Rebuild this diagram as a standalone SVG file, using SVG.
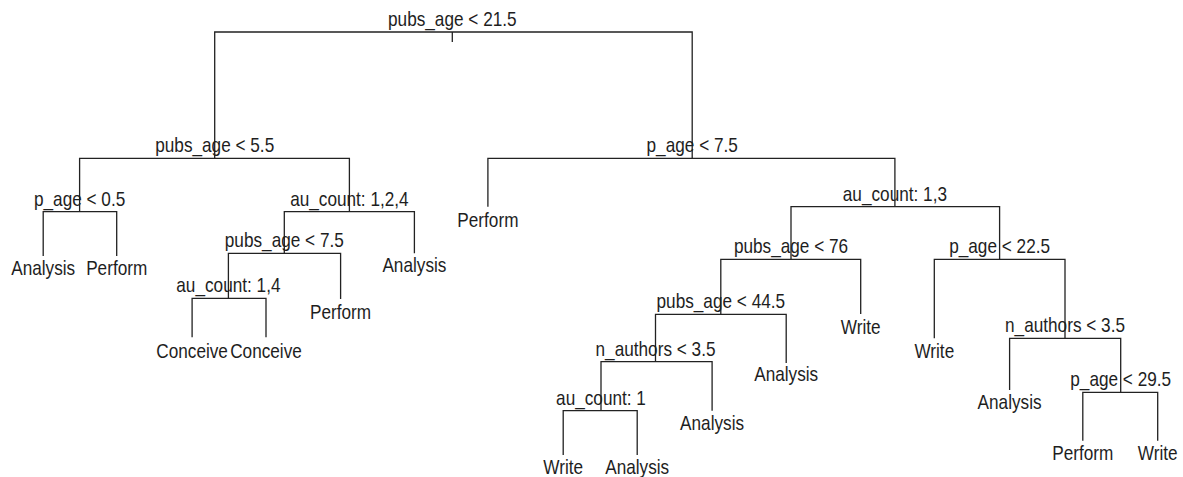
<svg xmlns="http://www.w3.org/2000/svg" width="1183" height="477" viewBox="0 0 1183 477">
  <style>
    .edge { fill: none; stroke: #222222; stroke-width: 1.3; }
    text { font-family: "Liberation Sans", Arial, sans-serif; font-size: 20px; fill: #1e1e1e; text-anchor: middle; }
  </style>
  <rect width="1183" height="477" fill="#ffffff"/>

  <!-- branches of the classification tree -->
  <g id="connectors">
    <path class="edge" d="M452.3,32 V42"/>
    <path class="edge" d="M214.7,158.3 V32 H692.2 V158.3"/>
    <path class="edge" d="M79.6,211.7 V158.3 H349.4 V211.7"/>
    <path class="edge" d="M487.9,206.7 V158.3 H894.9 V206.7"/>
    <path class="edge" d="M43.2,256 V211.7 H116.7 V256"/>
    <path class="edge" d="M284.3,253.3 V211.7 H414.4 V253.3"/>
    <path class="edge" d="M228.4,298.3 V253.3 H340.6 V299"/>
    <path class="edge" d="M192.1,337.3 V298.3 H266 V337.3"/>
    <path class="edge" d="M791,259.3 V206.7 H999.6 V259.3"/>
    <path class="edge" d="M720.8,314.3 V259.3 H860.7 V314"/>
    <path class="edge" d="M934.3,338.3 V259.3 H1065 V338.3"/>
    <path class="edge" d="M655.5,361.7 V314.3 H786.2 V363"/>
    <path class="edge" d="M1009.6,390 V338.3 H1120.7 V392.3"/>
    <path class="edge" d="M1082.8,440.7 V392.3 H1157.7 V440.7"/>
    <path class="edge" d="M601,410.7 V361.7 H712.1 V410.7"/>
    <path class="edge" d="M563.2,455 V410.7 H637.2 V455"/>
  </g>

  <!-- split nodes (labels set in a condensed Arial-like face) -->
  <g id="n1"><text transform="translate(452.3,26) scale(0.86,1)">pubs_age &lt; 21.5</text></g>
  <g id="n2"><text transform="translate(214.7,152) scale(0.86,1)">pubs_age &lt; 5.5</text></g>
  <g id="n3"><text transform="translate(692.2,152) scale(0.86,1)">p_age &lt; 7.5</text></g>
  <g id="n4"><text transform="translate(79.6,205.5) scale(0.86,1)">p_age &lt; 0.5</text></g>
  <g id="n5"><text transform="translate(349.4,205.5) scale(0.86,1)">au_count: 1,2,4</text></g>
  <g id="n10"><text transform="translate(284.3,247) scale(0.86,1)">pubs_age &lt; 7.5</text></g>
  <g id="n20"><text transform="translate(228.4,292) scale(0.86,1)">au_count: 1,4</text></g>
  <g id="n7"><text transform="translate(894.9,200.5) scale(0.86,1)">au_count: 1,3</text></g>
  <g id="n14"><text transform="translate(791,253) scale(0.86,1)">pubs_age &lt; 76</text></g>
  <g id="n15"><text transform="translate(999.6,253) scale(0.86,1)">p_age &lt; 22.5</text></g>
  <g id="n28"><text transform="translate(720.8,308) scale(0.86,1)">pubs_age &lt; 44.5</text></g>
  <g id="n31"><text transform="translate(1065,332) scale(0.86,1)">n_authors &lt; 3.5</text></g>
  <g id="n63"><text transform="translate(1120.7,386) scale(0.86,1)">p_age &lt; 29.5</text></g>
  <g id="n56"><text transform="translate(655.5,355.5) scale(0.86,1)">n_authors &lt; 3.5</text></g>
  <g id="n112"><text transform="translate(601,404.5) scale(0.86,1)">au_count: 1</text></g>

  <!-- leaves -->
  <g id="leaf8"><text transform="translate(43.2,275) scale(0.86,1)">Analysis</text></g>
  <g id="leaf9"><text transform="translate(116.7,275) scale(0.86,1)">Perform</text></g>
  <g id="leaf11"><text transform="translate(414.4,272) scale(0.86,1)">Analysis</text></g>
  <g id="leaf6"><text transform="translate(487.9,227) scale(0.86,1)">Perform</text></g>
  <g id="leaf21"><text transform="translate(340.6,319) scale(0.86,1)">Perform</text></g>
  <g id="leaf40"><text transform="translate(192.1,357.5) scale(0.86,1)">Conceive</text></g>
  <g id="leaf41"><text transform="translate(266,357.5) scale(0.86,1)">Conceive</text></g>
  <g id="leaf29"><text transform="translate(860.7,334) scale(0.86,1)">Write</text></g>
  <g id="leaf30"><text transform="translate(934.3,358) scale(0.86,1)">Write</text></g>
  <g id="leaf57"><text transform="translate(786.2,381) scale(0.86,1)">Analysis</text></g>
  <g id="leaf62"><text transform="translate(1009.6,409) scale(0.86,1)">Analysis</text></g>
  <g id="leaf126"><text transform="translate(1082.8,460) scale(0.86,1)">Perform</text></g>
  <g id="leaf127"><text transform="translate(1157.7,460) scale(0.86,1)">Write</text></g>
  <g id="leaf113"><text transform="translate(712.1,430) scale(0.86,1)">Analysis</text></g>
  <g id="leaf224"><text transform="translate(563.2,474) scale(0.86,1)">Write</text></g>
  <g id="leaf225"><text transform="translate(637.2,474) scale(0.86,1)">Analysis</text></g>
</svg>
